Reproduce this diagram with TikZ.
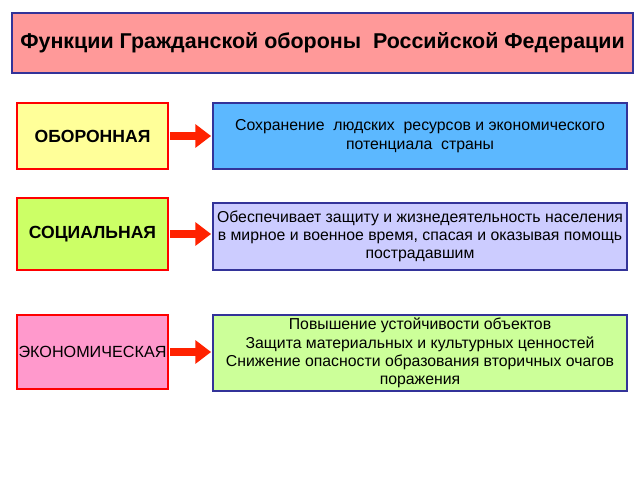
\documentclass[tikz,border=0pt]{standalone}
\usepackage{fontspec}
\setmainfont{Liberation Sans}
\usetikzlibrary{arrows.meta,positioning}

\definecolor{titlered}{HTML}{FF9999}
\definecolor{navyline}{HTML}{333399}
\definecolor{boxyellow}{HTML}{FFFF99}
\definecolor{boxlime}{HTML}{CCFF66}
\definecolor{boxpink}{HTML}{FF99CC}
\definecolor{boxblue}{HTML}{5CB8FF}
\definecolor{boxlilac}{HTML}{CCCCFF}
\definecolor{boxgreen}{HTML}{CCFF99}
\definecolor{arrowred}{HTML}{FF2200}

\begin{document}
\begin{tikzpicture}[x=0.02cm,y=-0.02cm,
                    kind/.style={draw=red,line width=1.2pt,minimum width=3.02cm,
                                 font=\bfseries\fontsize{10}{12}\selectfont,inner sep=0pt},
                    task/.style={draw=navyline,line width=1.2pt,minimum width=8.28cm,
                                 align=center,
                                 font=\fontsize{9}{10.4}\selectfont,inner sep=0pt},
                    goes/.style={-{Triangle[length=9pt,width=13pt]},line width=5pt,
                                 arrowred,shorten <=0.5pt,shorten >=0.5pt}]
                \useasboundingbox (0,0) rectangle (640,480);
                \node[draw=navyline,line width=1.2pt,fill=titlered,minimum width=12.42cm,
                      minimum height=1.2cm,font=\bfseries\fontsize{12.2}{14}\selectfont]
                      (title) at (322.5,43) {Функции Гражданской обороны\ \ Российской Федерации};
                \node[kind,fill=boxyellow,minimum height=1.32cm] (defence) at (92.5,136) {ОБОРОННАЯ};
                \node[kind,fill=boxlime,minimum height=1.44cm] (social) at (92.5,234) {СОЦИАЛЬНАЯ};
                \node[kind,fill=boxpink,minimum height=1.48cm,font=\fontsize{9.2}{12}\selectfont]
                      (economy) at (92.5,352) {ЭКОНОМИЧЕСКАЯ};
                \node[task,fill=boxblue,minimum height=1.32cm] (keep) at (420,136)
                      {Сохранение\ \ людских\ \ ресурсов и экономического\\ потенциала\ \ страны};
                \node[task,fill=boxlilac,minimum height=1.34cm] (protect) at (420,236.5)
                      {Обеспечивает защиту и жизнедеятельность населения\\ в мирное и военное время, спасая и оказывая помощь\\ пострадавшим};
                \node[task,fill=boxgreen,minimum height=1.52cm] (steady) at (420,353)
                      {Повышение устойчивости объектов\\ Защита материальных и культурных ценностей\\ Снижение опасности образования вторичных очагов\\ поражения};
                \draw[goes] (defence.east) -- (keep.west);
                \draw[goes] (social.east) -- (social.east -| protect.west);
                \draw[goes] (economy.east) -- (economy.east -| steady.west);
\end{tikzpicture}
\end{document}
